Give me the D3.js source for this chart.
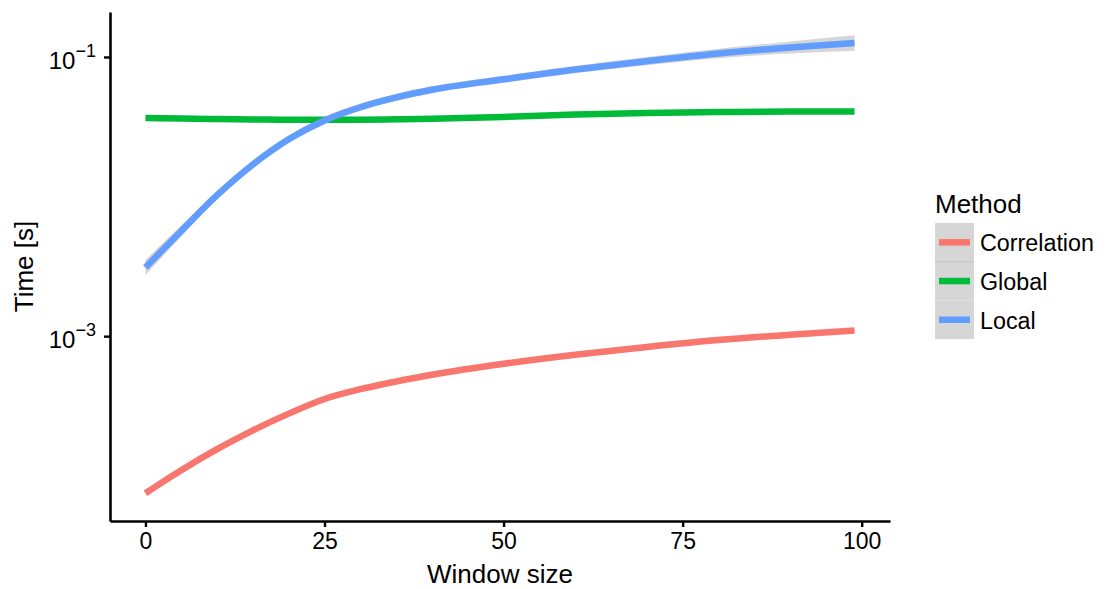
<!DOCTYPE html>
<html>
<head>
<meta charset="utf-8">
<script src="https://cdn.jsdelivr.net/npm/d3@7"></script>
<style>
  html, body { margin: 0; padding: 0; background: #fff; }
  svg { display: block; font-family: "Liberation Sans", Arial, Helvetica, sans-serif; }
</style>
</head>
<body>
<svg id="chart" width="1106" height="589"></svg>
<script>
// ---------------- data ----------------
const methods = ["Correlation", "Global", "Local"];
const windowSizes = [0, 5, 10, 15, 20, 25, 30, 35, 40, 50, 60, 70, 80, 90, 99];
const correlationTime = [7.50e-5, 1.096e-4, 1.549e-4, 2.113e-4, 2.786e-4, 3.548e-4, 4.169e-4, 4.732e-4, 5.284e-4, 6.339e-4, 7.362e-4, 8.375e-4, 9.376e-4, 1.023e-3, 1.096e-3];
const globalTime = [0.03656, 0.0362, 0.03589, 0.0357, 0.03548, 0.03548, 0.03556, 0.03573, 0.03606, 0.03715, 0.03864, 0.03963, 0.04027, 0.04064, 0.04074];
const localTime = [0.003105, 0.005675, 0.01023, 0.01698, 0.0257, 0.03508, 0.04365, 0.05129, 0.05821, 0.06918, 0.08128, 0.09333, 0.1059, 0.1169, 0.1259];
const localLower = [0.002735, 0.005176, 0.00955, 0.01592, 0.02421, 0.03304, 0.04111, 0.04842, 0.05495, 0.06531, 0.07656, 0.08730, 0.09795, 0.1059, 0.1107];
const localUpper = [0.003524, 0.006223, 0.01096, 0.01811, 0.02729, 0.03724, 0.04634, 0.05433, 0.06166, 0.07328, 0.08630, 0.09977, 0.1146, 0.1291, 0.1432];
const xTicks = [0, 25, 50, 75, 100];
const yTicks = [1e-3, 1e-1];
const yLimits = [4.74e-5, 0.210];
const xTitle = "Window size";
const yTitle = "Time [s]";
const legendTitle = "Method";
const colors = ["#F8766D", "#00BA38", "#619CFF"];

// ---------------- layout ----------------
const svg = d3.select("#chart");
const mLeft = 110, mRight = 890, mTop = 12, mBottom = 521;

const xExt = d3.extent(windowSizes);
const xPad = (xExt[1] - xExt[0]) * 0.05;
const x = d3.scaleLinear().domain([xExt[0] - xPad, xExt[1] + xPad]).range([mLeft, mRight]);
const y = d3.scaleLog().domain(yLimits).range([mBottom, mTop]);

const series = [
  { name: methods[0], color: colors[0], values: correlationTime },
  { name: methods[1], color: colors[1], values: globalTime },
  { name: methods[2], color: colors[2], values: localTime, lower: localLower, upper: localUpper }
];

const plot = svg.append("g");
const line = d3.line().x(d => x(d[0])).y(d => y(d[1])).curve(d3.curveMonotoneX);
const area = d3.area().x(d => x(d[0])).y0(d => y(d[1])).y1(d => y(d[2])).curve(d3.curveMonotoneX);

series.forEach(s => {
  if (s.lower) {
    plot.append("path")
      .datum(windowSizes.map((w, i) => [w, s.lower[i], s.upper[i]]))
      .attr("d", area)
      .attr("fill", "#999999")
      .attr("fill-opacity", 0.4);
  }
  plot.append("path")
    .datum(windowSizes.map((w, i) => [w, s.values[i]]))
    .attr("d", line)
    .attr("fill", "none")
    .attr("stroke", s.color)
    .attr("stroke-width", 6.5);
});

// ---------------- axes ----------------
const xAxis = svg.append("g")
  .attr("transform", `translate(0,${mBottom})`)
  .call(d3.axisBottom(x).tickValues(xTicks).tickSize(6).tickSizeOuter(0).tickPadding(6));
xAxis.select(".domain").attr("stroke", "#000").attr("stroke-width", 2.6);
xAxis.selectAll(".tick line").attr("stroke", "#000").attr("stroke-width", 2.4);
xAxis.selectAll(".tick text").attr("font-size", 23).attr("fill", "#000")
  .attr("font-family", "Liberation Sans, Arial, sans-serif");

const yAxis = svg.append("g")
  .attr("transform", `translate(${mLeft},0)`)
  .call(d3.axisLeft(y).tickValues(yTicks).tickFormat("").tickSize(6).tickSizeOuter(0));
yAxis.select(".domain").attr("stroke", "#000").attr("stroke-width", 2.6);
yAxis.selectAll(".tick line").attr("stroke", "#000").attr("stroke-width", 2.4);

yTicks.forEach(v => {
  const exp = Math.round(Math.log10(v));
  const t = svg.append("text")
    .attr("x", mLeft - 14)
    .attr("y", y(v) + 12)
    .attr("text-anchor", "end")
    .attr("font-size", 24)
    .attr("fill", "#000");
  t.append("tspan").text("10");
  t.append("tspan").attr("dy", -12).attr("font-size", 18).text((exp < 0 ? "\u2212" : "") + Math.abs(exp));
});

// titles
svg.append("text")
  .attr("x", (mLeft + mRight) / 2)
  .attr("y", 583)
  .attr("text-anchor", "middle")
  .attr("font-size", 26)
  .attr("fill", "#000")
  .text(xTitle);

svg.append("text")
  .attr("transform", `translate(33,${(mTop + mBottom) / 2}) rotate(-90)`)
  .attr("text-anchor", "middle")
  .attr("font-size", 26)
  .attr("fill", "#000")
  .text(yTitle);

// ---------------- legend ----------------
const lg = svg.append("g");
lg.append("text")
  .attr("x", 935)
  .attr("y", 213)
  .attr("font-size", 26)
  .attr("fill", "#000")
  .text(legendTitle);

const keyH = 38.7, keyW = 39, keyX = 935, keyY = 223;
series.forEach((s, i) => {
  const ky = keyY + i * keyH;
  lg.append("rect")
    .attr("x", keyX).attr("y", ky)
    .attr("width", keyW).attr("height", keyH)
    .attr("fill", "#d6d6d6");
  lg.append("line")
    .attr("x1", keyX + 4).attr("x2", keyX + keyW - 4)
    .attr("y1", ky + keyH / 2).attr("y2", ky + keyH / 2)
    .attr("stroke", s.color).attr("stroke-width", 6.5);
  lg.append("text")
    .attr("x", 980)
    .attr("y", ky + keyH / 2 + 9)
    .attr("font-size", 23.3)
    .attr("fill", "#000")
    .text(s.name);
});
lg.append("line")
  .attr("x1", keyX).attr("x2", keyX + keyW)
  .attr("y1", keyY + keyH).attr("y2", keyY + keyH)
  .attr("stroke", "#bdbdbd").attr("stroke-width", 0.8);
</script>
</body>
</html>
